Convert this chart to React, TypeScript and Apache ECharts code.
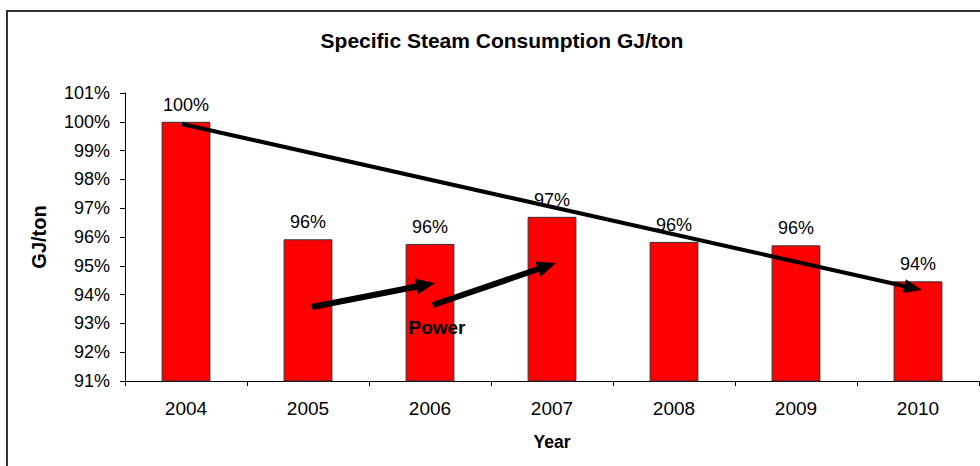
import React, { useEffect, useRef } from "react";
import * as echarts from "echarts";

const years = ["2004", "2005", "2006", "2007", "2008", "2009", "2010"];
const consumption = [100, 95.92, 95.76, 96.7, 95.83, 95.71, 94.46];
const yMin = 91;
const yMax = 101;
const yStep = 1;

const FONT = "'Liberation Sans', Arial, sans-serif";

function arrow(x1: number, y1: number, x2: number, y2: number, w: number, headLen: number, headW: number) {
  const dx = x2 - x1;
  const dy = y2 - y1;
  const len = Math.sqrt(dx * dx + dy * dy);
  const ux = dx / len;
  const uy = dy / len;
  const bx = x2 - ux * headLen;
  const by = y2 - uy * headLen;
  const px = -uy;
  const py = ux;
  return [
    {
      type: "line",
      shape: { x1, y1, x2: bx + ux * 2, y2: by + uy * 2 },
      style: { stroke: "#000", lineWidth: w },
      z: 100,
    },
    {
      type: "polygon",
      shape: {
        points: [
          [x2, y2],
          [bx + px * headW / 2, by + py * headW / 2],
          [bx - px * headW / 2, by - py * headW / 2],
        ],
      },
      style: { fill: "#000" },
      z: 100,
    },
  ];
}

export default function App() {
  const ref = useRef<HTMLDivElement>(null);
  useEffect(() => {
    if (!ref.current) return;
    const chart = echarts.init(ref.current, null, { renderer: "svg" });
    chart.setOption({
      animation: false,
      backgroundColor: "#fff",
      title: {
        text: "Specific Steam Consumption GJ/ton",
        left: 497,
        top: 25,
        textAlign: "center",
        textStyle: { fontFamily: FONT, fontSize: 21, fontWeight: "bold", color: "#000" },
      },
      grid: { left: 125, right: 1, top: 93, bottom: 85 },
      xAxis: {
        type: "category",
        data: years,
        boundaryGap: true,
        name: "Year",
        nameLocation: "middle",
        nameGap: 52,
        nameTextStyle: { fontFamily: FONT, fontSize: 17.5, fontWeight: "bold", color: "#000" },
        axisLine: { lineStyle: { color: "#000", width: 1 } },
        axisTick: { show: true, length: 5, lineStyle: { color: "#000" } },
        axisLabel: { fontFamily: FONT, fontSize: 19, color: "#000", margin: 18 },
      },
      yAxis: {
        type: "value",
        min: yMin,
        max: yMax,
        interval: yStep,
        name: "GJ/ton",
        nameLocation: "middle",
        nameGap: 76,
        nameTextStyle: { fontFamily: FONT, fontSize: 20, fontWeight: "bold", color: "#000" },
        axisLine: { show: true, lineStyle: { color: "#000", width: 1 } },
        axisTick: { show: true, length: 5, lineStyle: { color: "#000" } },
        splitLine: { show: false },
        axisLabel: {
          fontFamily: FONT,
          fontSize: 18,
          color: "#000",
          margin: 15,
          formatter: (v: number) => Math.round(v) + "%",
        },
      },
      series: [
        {
          type: "bar",
          data: consumption,
          barWidth: "40%",
          itemStyle: { color: "#FF0000", borderColor: "#333", borderWidth: 1 },
          label: {
            show: true,
            position: "top",
            distance: 8,
            fontFamily: FONT,
            fontSize: 18,
            color: "#000",
            formatter: (p: any) => Math.round(p.value) + "%",
          },
        },
      ],
      graphic: [
        {
          type: "rect",
          shape: { x: 7, y: 11, width: 1000, height: 500 },
          style: { fill: "none", stroke: "#333", lineWidth: 2 },
          z: -1,
        },
        ...arrow(182, 124, 922, 290, 4, 18, 14),
        ...arrow(312, 307, 435, 283, 6, 19, 16),
        ...arrow(433, 305, 556, 263, 6, 19, 16),
        {
          type: "text",
          x: 437,
          y: 327,
          style: {
            text: "Power",
            fontFamily: FONT,
            fontSize: 19,
            fontWeight: "bold",
            fill: "#000",
            align: "center",
            verticalAlign: "middle",
          },
          z: 101,
        },
      ],
    });
    return () => chart.dispose();
  }, []);
  return <div ref={ref} style={{ width: 980, height: 466, position: "absolute", left: 0, top: 0 }} />;
}
